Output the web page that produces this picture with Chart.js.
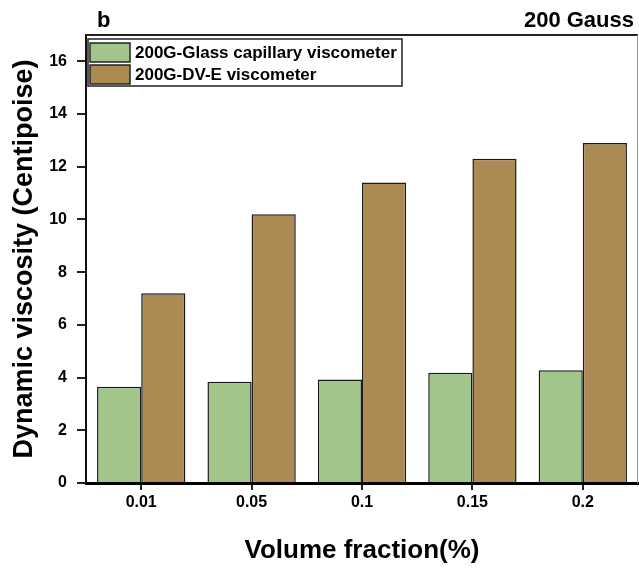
<!DOCTYPE html>
<html lang="en">
<head>
    <meta charset="UTF-8">
    <title>Dynamic viscosity 200 Gauss</title>
    <script src="https://cdn.jsdelivr.net/npm/chart.js"></script>
    <style>
        body { margin: 0; background: #fff; }
    </style>
</head>
<body>
    <canvas id="visc-chart" width="639" height="570"></canvas>

    <script>
        // data
        const fractions = ['0.01', '0.05', '0.1', '0.15', '0.2'];
        const glassCapillary = [3.65, 3.84, 3.93, 4.18, 4.28];
        const dvE = [7.2, 10.2, 11.4, 12.3, 12.9];
        const yTicks = [0, 2, 4, 6, 8, 10, 12, 14, 16];

        const FONT = "'Liberation Sans', Arial, sans-serif";

        // frame top/right, inner legend, panel labels
        const decorPlugin = {
            id: 'decor',
            afterDraw(chart) {
                const ctx = chart.ctx;
                const a = chart.chartArea;
                ctx.save();

                ctx.strokeStyle = '#222';
                ctx.lineWidth = 2;
                ctx.beginPath();
                ctx.moveTo(a.left, a.top);
                ctx.lineTo(a.right, a.top);
                ctx.stroke();
                ctx.strokeStyle = '#999';
                ctx.lineWidth = 1;
                ctx.beginPath();
                ctx.moveTo(a.right - 0.5, a.top);
                ctx.lineTo(a.right - 0.5, a.bottom);
                ctx.stroke();

                // legend box
                const lx = a.left + 2, ly = a.top + 4, lw = 314, lh = 47;
                ctx.fillStyle = '#fff';
                ctx.fillRect(lx, ly, lw, lh);
                ctx.strokeStyle = '#222';
                ctx.lineWidth = 1.5;
                ctx.strokeRect(lx, ly, lw, lh);
                ctx.font = 'bold 17px ' + FONT;
                ctx.textBaseline = 'middle';
                chart.data.datasets.forEach((ds, i) => {
                    const sy = ly + 4 + i * 22;
                    ctx.fillStyle = ds.backgroundColor;
                    ctx.fillRect(lx + 2, sy, 40, 19);
                    ctx.strokeStyle = '#222';
                    ctx.lineWidth = 1.5;
                    ctx.strokeRect(lx + 2, sy, 40, 19);
                    ctx.fillStyle = '#000';
                    ctx.textAlign = 'left';
                    ctx.fillText(ds.label, lx + 47, sy + 10);
                });

                ctx.font = 'bold 22px ' + FONT;
                ctx.fillStyle = '#000';
                ctx.textBaseline = 'alphabetic';
                ctx.textAlign = 'left';
                ctx.fillText('b', 97, 27);
                ctx.textAlign = 'right';
                ctx.fillText('200 Gauss', 634, 27);
                ctx.restore();
            }
        };

        const ctx = document.getElementById('visc-chart').getContext('2d');
        new Chart(ctx, {
            type: 'bar',
            data: {
                labels: fractions,
                datasets: [{
                    label: '200G-Glass capillary viscometer',
                    data: glassCapillary,
                    backgroundColor: '#a2c58c',
                    borderColor: '#1a1a1a',
                    borderWidth: 1.5
                }, {
                    label: '200G-DV-E viscometer',
                    data: dvE,
                    backgroundColor: '#ab8b53',
                    borderColor: '#1a1a1a',
                    borderWidth: 1.5
                }]
            },
            options: {
                responsive: false,
                animation: false,
                layout: { padding: { top: 35, right: 1, left: 0, bottom: 0 } },
                datasets: { bar: { categoryPercentage: 0.8, barPercentage: 1.0 } },
                plugins: {
                    legend: { display: false },
                    tooltip: { enabled: false }
                },
                scales: {
                    x: {
                        afterFit(scale) { scale.height = 87; },
                        grid: { drawOnChartArea: false, offset: false, tickLength: 7, color: '#222', lineWidth: 2 },
                        border: { color: '#000', width: 3 },
                        ticks: { color: '#000', padding: 3, font: { family: FONT, size: 16, weight: 'bold' } },
                        title: {
                            display: true,
                            text: 'Volume fraction(%)',
                            color: '#000',
                            padding: { top: 0, bottom: 4 },
                            font: { family: FONT, size: 26, weight: 'bold' }
                        }
                    },
                    y: {
                        min: 0,
                        max: 17,
                        afterFit(scale) { scale.width = 86; },
                        afterBuildTicks(scale) { scale.ticks = yTicks.map(v => ({ value: v })); },
                        grid: { drawOnChartArea: false, tickLength: 9, color: '#222', lineWidth: 2 },
                        border: { color: '#111', width: 2 },
                        ticks: { color: '#000', padding: 10, font: { family: FONT, size: 16, weight: 'bold' } },
                        title: {
                            display: true,
                            text: 'Dynamic viscosity (Centipoise)',
                            color: '#000',
                            padding: { top: 8, bottom: 0 },
                            font: { family: FONT, size: 27, weight: 'bold' }
                        }
                    }
                }
            },
            plugins: [decorPlugin]
        });
    </script>
</body>
</html>
